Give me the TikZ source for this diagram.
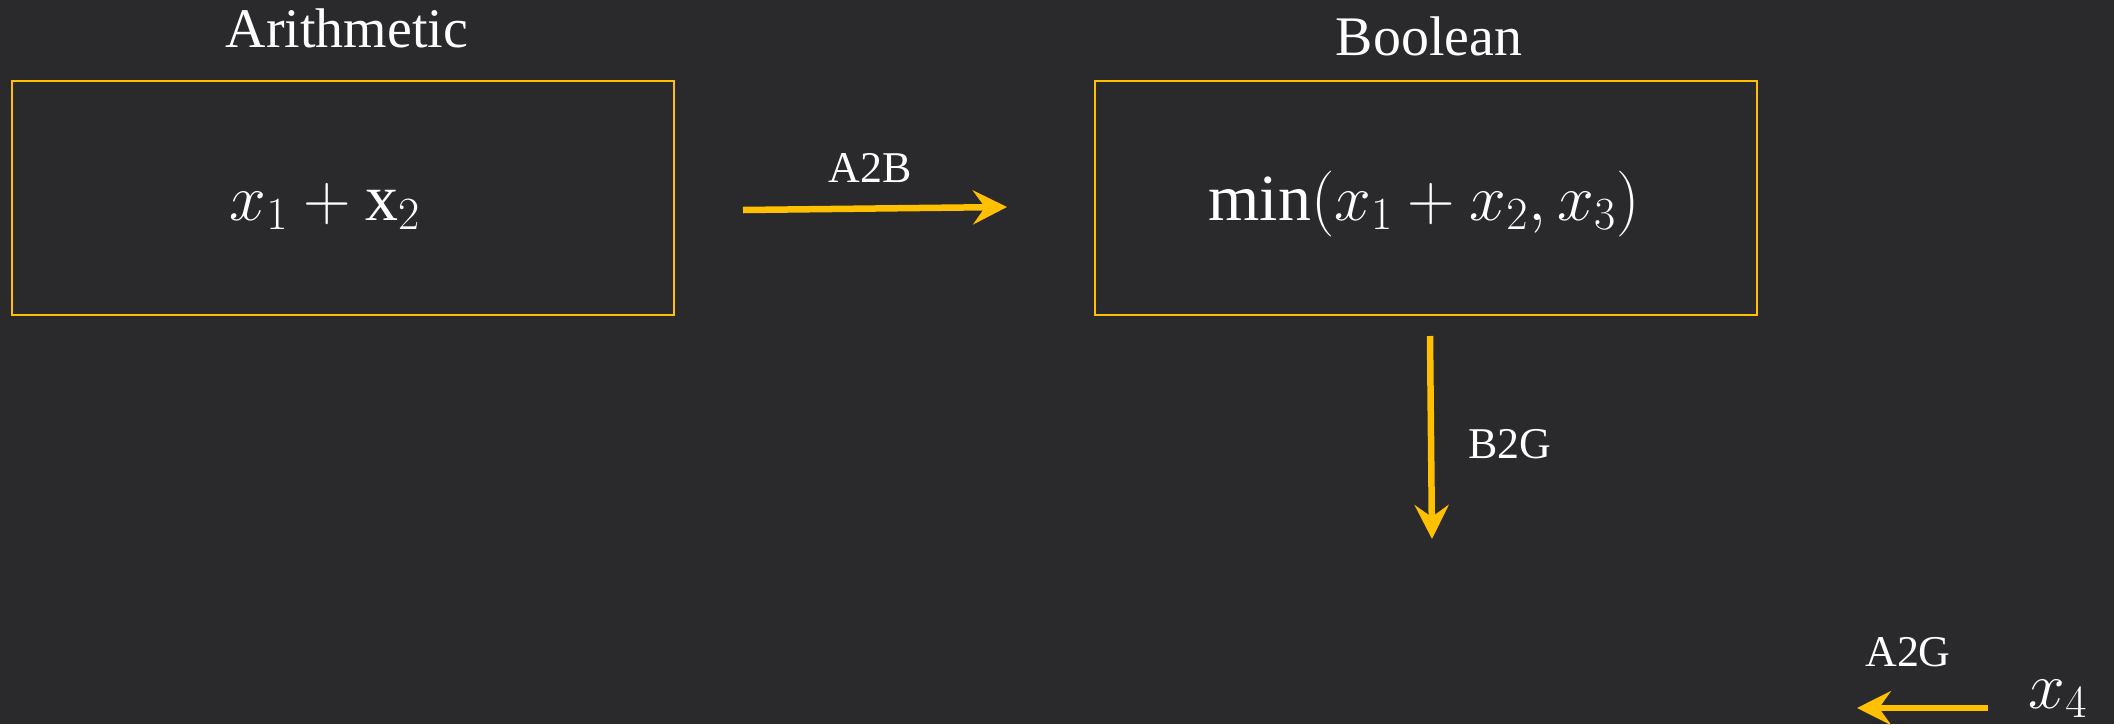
\RequirePackage{fix-cm}
\documentclass[tikz,border=0pt]{standalone}
\usepackage{fontspec}
\setmainfont{Liberation Serif}
\usetikzlibrary{arrows.meta}
\definecolor{bg}{RGB}{42,42,44}
\definecolor{gold}{RGB}{255,192,0}
\begin{document}
\begin{tikzpicture}[x=0.02cm,y=-0.02cm,
  box/.style={draw=gold,line width=1.6pt,minimum width=13.24cm,minimum height=4.68cm,inner sep=0pt},
  title/.style={text=white,font=\fontsize{31.8}{38}\selectfont,inner sep=0pt,anchor=base},
  lab/.style={text=white,font=\fontsize{25}{30}\selectfont,inner sep=0pt,anchor=base},
  mth/.style={text=white,font=\fontsize{37.5}{45}\selectfont,inner sep=0pt,anchor=base},
  conn/.style={draw=gold,line width=3.7pt,-{Stealth[length=0.68cm,width=0.68cm,inset=0.24cm]}}]
\fill[bg] (0,0) rectangle (2114,724);
\useasboundingbox (0,0) rectangle (2114,724);
% boxes
\node[box] (arith) at (343,198) {};
\node[box] (bool) at (1426,198) {};
% titles
\node[title] (tA) at (347,47) {Arithmetic};
\node[title] (tB) at (1429,55) {Boolean};
% contents
\node[mth] (e1) at (325,220) {$x_1+\mathrm{x}_2$};
\node[mth] (e2) at (1424,220) {$\mathrm{min}(x_1+x_2,x_3)$};
\node[mth] (x4) at (2058,708) {$x_4$};
% labels
\node[lab] (lA2B) at (870,182) {A2B};
\node[lab] (lB2G) at (1510,458) {B2G};
\node[lab] (lA2G) at (1908,666) {A2G};
% arrow end points
\coordinate (a2bS) at (743,210);
\coordinate (a2bE) at (1007,207);
\coordinate (b2gS) at (1430,336);
\coordinate (b2gE) at (1432,539);
\coordinate (a2gS) at (1988,708);
\coordinate (a2gE) at (1857,708);
\draw[conn] (a2bS) -- (a2bE);
\draw[conn] (b2gS) -- (b2gE);
\draw[conn] (a2gS) -- (a2gE);
\end{tikzpicture}
\end{document}
